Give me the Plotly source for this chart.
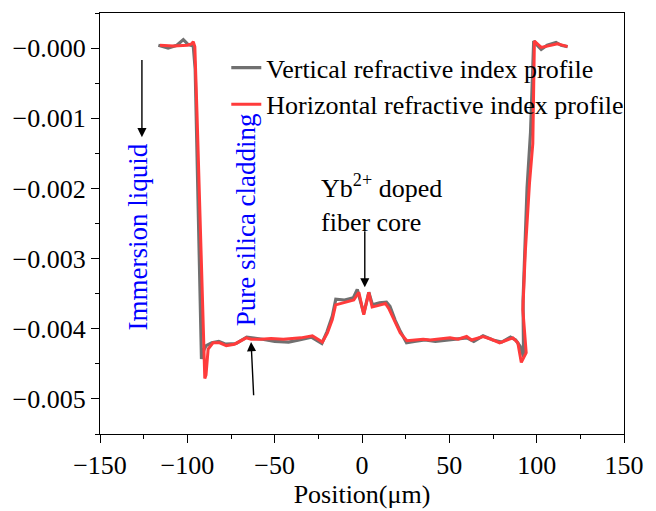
import plotly.graph_objects as go

# Refractive index difference profiles across the fiber (position in micrometres)
pos_vertical = [-116.6, -111, -106, -102.3, -99.5, -96.6, -95.5, -94.5, -93.3, -92.3, -91.9,
                -90.5, -89.2, -86, -82, -78, -72, -66, -62, -57, -50, -42, -36, -29, -23,
                -20, -17, -15, -10, -5, -2.7, 1.0, 3.9, 6, 10, 14, 16, 19, 22, 25.5, 30, 36,
                42, 48, 54, 60, 64, 69.3, 75, 80, 85, 88, 90.5, 92.5, 92.2, 93.5, 94.5, 96.5,
                98.3, 100, 102.6, 106, 111.1, 114, 117.7]
ri_vertical = [0.00004, 0.0, 0.00004, 0.00012, 0.00005, 0.00003, -0.0003, -0.0015, -0.0030,
               -0.0041, -0.00443, -0.0043, -0.00424, -0.0042, -0.00418, -0.00422, -0.00421,
               -0.00412, -0.00413, -0.00415, -0.00418, -0.00419, -0.00416, -0.00412, -0.00421,
               -0.00404, -0.00382, -0.00358, -0.00359, -0.00356, -0.00344, -0.00378, -0.00348,
               -0.00366, -0.00363, -0.00362, -0.00368, -0.00388, -0.00404, -0.0042, -0.00418,
               -0.00416, -0.00418, -0.00416, -0.00414, -0.00413, -0.00418, -0.0041, -0.00416,
               -0.00419, -0.00412, -0.00416, -0.00425, -0.0044, -0.0036, -0.0027, -0.002,
               -0.0012, 0.0001, 0.00005, -0.00002, 0.00004, 0.00008, 0.00004, 0.00002]

pos_horizontal = [-115.7, -108, -100, -97.6, -96.6, -95.7, -94.5, -93, -91.8, -91, -90, -89.3,
                  -88.1, -85.3, -81.5, -77.7, -73, -66.3, -63.5, -57.8, -52.1, -45, -35, -28.4,
                  -22.7, -19.8, -17, -15.1, -12, -8, -4.7, -1.8, 1.0, 3.9, 5.8, 9, 13.4, 15.3,
                  19, 21.9, 25.7, 30, 35, 39, 45, 50.4, 55, 59.9, 62.7, 69.3, 74, 78.8, 83,
                  86.4, 89.2, 91.2, 94, 92.1, 93.5, 95.9, 97.8, 98.7, 102.6, 107.3, 112, 117.7]
ri_horizontal = [0.00004, 0.00003, 0.00004, 0.00006, 0.00009, 0.00002, -0.0009, -0.0022,
                 -0.0034, -0.0042, -0.00471, -0.00466, -0.00429, -0.0042, -0.0042, -0.00424,
                 -0.00422, -0.00413, -0.00415, -0.00415, -0.00414, -0.00415, -0.00413, -0.0041,
                 -0.00419, -0.00406, -0.00387, -0.00366, -0.00364, -0.00362, -0.00359, -0.00348,
                 -0.0038, -0.00348, -0.00369, -0.00367, -0.00364, -0.00371, -0.0039, -0.00406,
                 -0.00417, -0.00416, -0.00415, -0.00416, -0.00414, -0.00413, -0.00415, -0.00411,
                 -0.00416, -0.00411, -0.00415, -0.0042, -0.00416, -0.00413, -0.0042, -0.00448,
                 -0.00434, -0.00373, -0.0029, -0.00192, -0.00136, 0.0001, 0.00001, 0.00003,
                 0.00006, 0.00002]

y_tickvals = [0.0, -0.001, -0.002, -0.003, -0.004, -0.005]
y_ticktext = ["\u22120.000", "\u22120.001", "\u22120.002", "\u22120.003", "\u22120.004", "\u22120.005"]
y_minorvals = [0.0005, -0.0005, -0.0015, -0.0025, -0.0035, -0.0045, -0.0055]

FONT = "Liberation Serif"

fig = go.Figure()
fig.add_trace(go.Scatter(x=pos_vertical, y=ri_vertical, mode="lines",
                         name="Vertical refractive index profile",
                         line=dict(color="#707070", width=3.2)))
fig.add_trace(go.Scatter(x=pos_horizontal, y=ri_horizontal, mode="lines",
                         name="Horizontal refractive index profile",
                         line=dict(color="#ff3b3b", width=3)))

axis_common = dict(showline=True, linecolor="black", linewidth=1.3, mirror=True,
                   showgrid=False, zeroline=False, ticks="outside", ticklen=8,
                   tickwidth=1.3, tickcolor="black",
                   tickfont=dict(family=FONT, size=26, color="black"))

fig.update_xaxes(range=[-150, 150], tick0=-150, dtick=50,
                 minor=dict(ticks="outside", dtick=25, tick0=-150, ticklen=4,
                            tickwidth=1.3, tickcolor="black"),
                 title=dict(text="Position(\u03bcm)", font=dict(family=FONT, size=26, color="black"),
                            standoff=0),
                 **axis_common)
fig.update_yaxes(range=[-0.0055, 0.0005], tickmode="array", tickvals=y_tickvals,
                 ticktext=y_ticktext,
                 minor=dict(ticks="outside", tickmode="array", tickvals=y_minorvals, ticklen=4,
                            tickwidth=1.3, tickcolor="black"),
                 **axis_common)

label_font = dict(family=FONT, size=27, color="blue")
text_font = dict(family=FONT, size=26, color="black")

# Region labels
fig.add_annotation(x=-128.5, y=-0.00269, text="Immersion liquid", textangle=-90,
                   showarrow=False, font=label_font)
fig.add_annotation(x=-66.2, y=-0.00245, text="Pure silica cladding", textangle=-90,
                   showarrow=False, font=label_font)
fig.add_annotation(x=-24.5, y=-0.00221, text="Yb<sup>2+</sup> doped<br>fiber core",
                   showarrow=False, xanchor="left", yanchor="middle", align="left",
                   font=text_font)

# Pointer arrows
arrow_style = dict(showarrow=True, arrowhead=2, arrowsize=1.3, arrowwidth=1.4,
                   arrowcolor="black", axref="x", ayref="y", text="")
fig.add_annotation(x=-126, y=-0.00127, ax=-126, ay=-0.00015, **arrow_style)
fig.add_annotation(x=-63.5, y=-0.00419, ax=-62, ay=-0.00497, **arrow_style)
fig.add_annotation(x=1.6, y=-0.00341, ax=1.6, ay=-0.00259, **arrow_style)

fig.update_layout(
    width=656, height=511,
    margin=dict(l=98, r=31, t=12, b=69),
    plot_bgcolor="white", paper_bgcolor="white",
    font=dict(family=FONT, color="black"),
    showlegend=True,
    legend=dict(x=0.241, y=0.926, xanchor="left", yanchor="top",
                bgcolor="rgba(0,0,0,0)", borderwidth=0,
                font=dict(family=FONT, size=26, color="black")),
)

fig.write_html("out.html")
